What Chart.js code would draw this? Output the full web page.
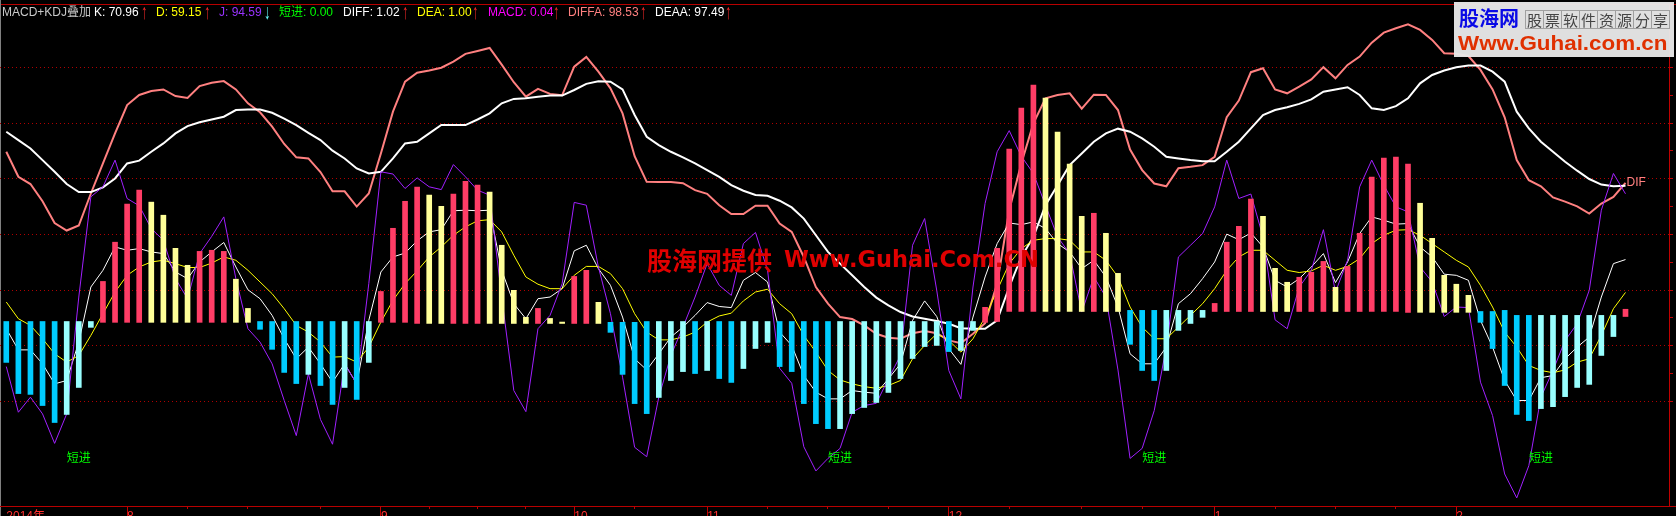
<!DOCTYPE html>
<html>
<head>
<meta charset="utf-8">
<script src="https://cdn.jsdelivr.net/npm/chart.js@4/dist/chart.umd.js"></script>
<style>
  html, body { margin: 0; padding: 0; background: #000; overflow: hidden; }
  #wrap { position: relative; width: 1676px; height: 516px; overflow: hidden; }
  #wrap span, #logo div { position: absolute; white-space: nowrap; }
  .hd { top: 5px; font: 12px/15px "Liberation Sans", "Noto Sans CJK SC", sans-serif; }
  .ar { top: 1px; font: 21px/21px "Liberation Sans", sans-serif; color: #ff2a2a; transform: scaleX(0.6); transform-origin: center; }
  .mark { color: #e00000; font-weight: bold; line-height: 30px; }
  #logo { position: absolute; left: 1454px; top: 2px; width: 220px; height: 55px; background: rgba(232,232,232,0.96); }
  #logo .cell { top: 8px; width: 17px; height: 17px; border: 1px solid #a0a0a0; color: #444;
    font: 15px/17px "Noto Sans CJK SC", sans-serif; text-align: center; }
</style>
</head>
<body>
<div id="wrap">
  <canvas id="myChart" width="1676" height="516"></canvas>

  <span class="hd" style="left:2px;color:#c8c8c8">MACD+KDJ叠加</span>
  <span class="hd" style="left:94px;color:#fff">K: 70.96</span><span class="ar" style="left:139px">↑</span>
  <span class="hd" style="left:156px;color:#ff0">D: 59.15</span><span class="ar" style="left:202px">↑</span>
  <span class="hd" style="left:219px;color:#9933ff">J: 94.59</span><span class="ar" style="left:262px;color:#66ffff">↓</span>
  <span class="hd" style="left:279px;color:#0f0">短进: 0.00</span>
  <span class="hd" style="left:343px;color:#fff">DIFF: 1.02</span><span class="ar" style="left:400px">↑</span>
  <span class="hd" style="left:417px;color:#ff0">DEA: 1.00</span><span class="ar" style="left:470px">↑</span>
  <span class="hd" style="left:488px;color:#f0f">MACD: 0.04</span><span class="ar" style="left:551px">↑</span>
  <span class="hd" style="left:568px;color:#ff8080">DIFFA: 98.53</span><span class="ar" style="left:638px">↑</span>
  <span class="hd" style="left:655px;color:#fff">DEAA: 97.49</span><span class="ar" style="left:723px">↑</span>

  <span class="mark" style="left:647px;top:244px;font-family:'Noto Sans CJK SC';font-size:25px">股海网提供</span>
  <span class="mark" style="left:784px;top:244px;font-family:'DejaVu Sans';font-size:22.5px">Www.Guhai.Com.CN</span>

  <div id="logo">
    <div style="left:5px;top:4px;color:#0a0ae6;font:bold 20px/24px 'Noto Sans CJK SC'">股海网</div>
    <div class="cell" style="left:71px">股</div>
    <div class="cell" style="left:89px">票</div>
    <div class="cell" style="left:107px">软</div>
    <div class="cell" style="left:125px">件</div>
    <div class="cell" style="left:143px">资</div>
    <div class="cell" style="left:161px">源</div>
    <div class="cell" style="left:179px">分</div>
    <div class="cell" style="left:197px">享</div>
    <div style="left:4px;top:29px;color:#e03000;font:bold 20px/24px 'Liberation Sans';transform:scaleX(1.12);transform-origin:left">Www.Guhai.com.cn</div>
  </div>
</div>

<script>
// KDJ lines
const kValues = [46.1,38.5,38.5,33.5,26.3,27.5,41.3,61.1,67.1,75.5,74.3,74.9,73.7,73.1,66.5,64.1,70.1,73.7,77.1,68.3,60.1,56.9,50.9,42.5,35.3,39.5,33.5,26.9,33.5,26.3,49.1,66.5,71.9,73.3,77.7,
  80.9,81.7,88.5,88.7,88.5,88.7,67.1,55.1,49.7,56.9,57.5,60.5,74.1,76.1,67.7,61.7,50.3,35.3,31.3,37.1,43.1,46.7,50.9,55.5,54.1,53.7,63.5,66.3,62.9,44.9,40.1,29.3,23.3,20.9,
  20.9,23.9,23.3,22.9,28.1,33.5,49.1,56.1,50.5,38.9,33.3,50.3,64.7,76.7,84.1,83.5,84.5,82.1,76.7,73.7,67.7,70.7,64.7,53.9,37.1,33.5,33.5,39.5,55.1,58.7,64.1,70.1,80.1,78.1,80.5,
  75.5,63.5,61.1,64.1,68.3,73.1,62.7,70.1,80.3,86.3,85.1,83.7,83.9,75.5,71.9,65.7,65.3,63.5,49.1,39.5,27.5,20.3,20.3,28.5,29.3,35.3,39.5,43.1,57.5,69.5,70.96];
const dValues = [55.7,49.7,47.3,42.5,37.1,34.1,36.5,43.7,51.5,59.3,65.3,68.3,70.1,70.7,69.5,68.1,68.1,69.7,71.9,70.7,67.1,62.9,58.7,53.3,47.3,44.9,41.3,35.9,36.1,34.1,39.5,48.5,56.3,62.3,66.9,
  71.9,75.5,79.7,82.7,84.9,85.3,80.9,72.5,64.7,62.1,60.5,60.5,65.3,68.5,68.5,65.9,60.5,51.5,44.9,42.1,42.1,43.1,44.9,48.5,50.7,51.7,56.1,59.3,60.3,55.1,51.5,43.7,37.7,31.1,
  27.7,26.3,25.3,24.7,25.7,27.5,35.3,40.1,44.3,41.9,37.7,42.5,50.3,59.9,69.5,74.9,77.9,78.5,78.5,77.9,73.7,73.7,70.7,64.7,53.9,46.7,42.5,42.5,46.7,50.9,55.1,60.5,67.1,71.9,74.3,
  74.3,70.7,67.1,66.3,66.9,68.9,67.1,68.5,71.3,76.7,79.7,81.5,81.7,79.7,76.7,73.7,70.7,68.3,61.7,53.9,44.9,39.5,32.9,31.1,30.3,31.3,34.1,35.3,43.7,53.3,59.15];
const jValues = [32.5,16.1,21.5,15.5,4.9,15.5,57.5,93.5,97.1,106.7,92.9,90.3,82.1,77.9,64.1,56.9,73.1,79.3,86.3,64.1,46.1,41.3,33.5,20.3,7.7,29.9,13.5,4.6,33.5,26.3,62.3,102.5,101.7,96.5,100.3,
  97.1,96.1,105.1,100.7,95.9,94.1,57.5,23.9,16.3,46.1,50.9,62.3,91.5,90.5,68.3,51.5,28.7,3.5,0.1,21.5,36.5,46.7,57.5,69.5,61.7,58.1,76.7,80.7,67.1,31.9,26.5,3.7,-5.0,-0.5,
  3.1,16.1,18.5,19.3,28.1,36.5,76.1,85.7,59.9,31.1,20.9,61.1,91.1,109.7,117.3,108.1,101.9,90.5,79.1,73.1,52.1,64.7,57.5,31.3,-0.5,3.1,16.7,39.5,71.9,76.1,80.3,89.9,106.7,92.9,94.5,
  79.1,49.3,46.1,61.1,67.1,81.7,59.3,70.7,97.1,106.7,97.7,89.9,88.1,68.3,62.9,50.5,53.9,53.7,26.9,14.9,-6.1,-14.7,-3.1,21.5,31.1,41.9,47.9,59.9,88.7,101.9,94.59];

// MACD lines scaled into the same range
const diffaValues = [109.7,100.7,98.1,91.9,84.1,81.4,83.2,94.7,105.5,116.3,126.5,130.1,131.5,132.1,129.7,129.0,133.3,134.5,135.1,132.1,127.1,123.9,118.7,112.5,107.7,107.3,102.4,95.5,95.5,90.0,94.7,109.1,124.1,134.9,138.1,
  138.9,139.9,142.1,144.9,145.9,147.0,141.0,134.7,129.5,132.3,130.5,130.0,140.3,143.8,138.5,132.5,123.5,108.1,98.9,98.8,98.8,98.4,95.9,94.6,90.5,87.3,87.3,90.3,90.3,83.9,80.9,71.9,61.1,55.1,
  50.3,49.6,47.3,44.3,42.9,42.5,44.5,45.3,44.5,41.9,40.9,44.3,48.1,62.3,88.7,105.5,119.9,128.9,130.1,130.7,125.2,130.2,130.1,124.7,110.5,103.1,98.3,97.3,103.8,104.3,104.9,107.9,122.1,128.1,138.3,
  139.7,132.1,130.7,133.1,135.7,140.1,136.1,140.9,143.9,148.9,152.5,154.1,155.5,153.5,149.9,145.1,144.9,144.1,139.1,132.1,122.1,106.7,99.5,97.3,93.3,91.8,90.1,87.5,91.1,93.5,98.53];
const deaaValues = [116.9,113.9,110.9,106.7,102.5,98.1,95.2,95.2,96.9,100.1,105.5,106.5,109.7,112.7,116.3,118.9,120.3,121.3,122.3,124.7,124.9,124.9,123.7,121.6,119.3,116.5,113.9,110.1,107.3,103.7,101.9,102.5,107.3,112.7,113.3,
  116.3,119.3,119.3,119.3,121.3,123.5,127.1,128.7,128.9,129.5,129.9,129.9,131.9,134.1,135.0,134.9,132.1,122.9,115.1,112.1,109.7,107.7,105.5,103.1,100.7,97.7,95.7,94.2,93.9,92.1,89.7,85.7,79.7,73.7,
  69.5,65.3,61.1,57.3,54.5,52.1,50.5,49.7,48.9,47.9,46.3,46.1,46.1,49.1,61.1,71.9,79.1,90.5,97.7,104.9,109.1,113.3,116.3,118.0,116.9,114.5,111.5,107.9,107.3,106.7,106.3,106.3,109.7,113.3,118.1,
  122.9,124.7,125.7,126.9,128.5,131.3,132.1,132.9,130.1,125.3,124.7,126.1,128.9,134.3,137.3,138.9,140.1,140.7,140.7,138.5,134.9,124.1,118.1,113.3,109.7,106.1,102.9,99.9,97.9,97.3,97.49];

// histogram: where each bar starts, where it ends, and its kind
// R rising above zero, Y falling above zero, C falling below zero, L rising below zero
const macdBase = [48.7,48.7,48.7,48.7,48.7,48.7,48.7,48.7,48.4,48.4,48.4,48.4,48.4,48.4,48.4,48.4,48.4,48.4,48.4,48.4,48.4,48.7,48.7,48.7,48.7,48.7,48.7,48.7,48.7,48.7,48.7,48.4,48.4,48.4,48.0,
  48.0,48.0,48.0,48.0,48.0,48.0,48.0,48.0,48.0,48.0,48.0,48.0,48.0,48.0,48.0,48.4,48.4,48.4,48.7,48.7,48.7,48.7,48.7,48.7,48.7,48.7,48.7,48.7,48.7,48.7,48.7,48.7,48.7,48.7,
  48.7,48.7,48.7,48.7,48.7,48.7,48.7,48.7,48.7,48.7,48.7,48.7,48.4,48.7,52.3,52.3,52.3,52.3,52.3,52.3,52.3,52.3,52.3,52.3,52.7,52.7,52.7,52.7,52.7,52.7,52.7,52.3,52.3,52.3,52.3,
  52.3,52.3,52.3,52.3,52.3,52.3,52.3,52.3,52.3,52.3,52.3,52.3,52.0,52.0,52.0,52.0,52.0,52.0,52.3,52.3,52.7,50.9,50.9,50.9,50.9,50.9,50.9,50.9,50.9,50.9,50.5];
const macdEnd = [34.0,22.8,22.5,18.5,12.4,15.3,25.0,46.6,63.1,77.2,90.9,95.9,91.6,86.9,75.0,68.9,73.9,74.3,73.9,63.9,53.4,45.9,38.7,30.4,26.4,29.7,25.7,18.9,25.0,20.7,34.0,59.5,82.2,91.9,97.0,
  94.1,90.1,94.5,99.1,97.7,95.2,76.1,59.9,50.2,53.4,49.8,48.5,64.9,67.1,55.6,44.8,29.7,19.2,15.6,21.4,27.5,30.7,30.0,31.1,28.2,26.8,31.8,39.0,41.2,32.5,30.7,19.2,12.0,10.2,
  10.2,15.6,17.8,19.6,23.2,28.2,35.4,39.7,40.1,37.9,38.3,45.5,53.8,75.0,110.7,125.4,133.7,129.0,116.8,105.3,86.5,87.6,80.4,66.0,40.5,31.1,27.5,31.1,45.5,48.0,50.2,55.2,77.2,82.9,92.7,
  86.5,67.8,62.8,64.6,66.4,70.3,61.0,68.5,80.4,100.6,107.4,107.8,105.3,91.2,78.6,65.3,62.1,58.1,48.4,39.0,25.7,15.3,13.1,17.4,18.1,21.7,25.0,26.1,36.5,43.3,53.1];
const macdKind = "CCCCCLLLRRRRYYYYRRRYYCCCCLCCLCLRRRR" +
  "YYRRRYYYYRYYRRYCCCCLLLCLCCLLLCCCCCL" +
  "LLLLLLLLCLLRRRRRYYYYRYYCCCLLLLRRRR" +
  "YYYRRRYRRRRRRYYYYYCCCCCLLLLLLLR";

// time axis: bar index -> label, and the unlabelled ticks between months
const monthLabels = { 0: "2014年", 10: "8", 31: "9", 47: "10", 58: "11", 78: "12", 100: "1", 120: "2" };
const minorTicks = [15, 20, 26, 35, 39, 43, 52, 63, 68, 73, 83, 89, 94, 105, 110, 115];

// 短进 signal fires at value 0
const signalBars = [6, 69, 95, 127];

const KIND_COLORS = { R: "#ff3d66", Y: "#ffff99", C: "#00ccff", L: "#99ffff" };

const bars = macdEnd.map((v, i) => i);
const toPoints = (vals) => vals.map((v, i) => ({ x: i, y: v }));

function lineSet(label, vals, color, width, order) {
  return {
    type: "line",
    label: label,
    data: toPoints(vals),
    borderColor: color,
    borderWidth: width,
    pointRadius: 0,
    tension: 0,
    order: order,
  };
}

// black backdrop, frame lines and the two text marks tied to the data
const decorations = {
  id: "decorations",
  beforeDraw(chart) {
    const { ctx, width, chartArea } = chart;
    ctx.save();
    ctx.fillStyle = "#000";
    ctx.fillRect(0, 0, width, chart.height);
    ctx.fillStyle = "#b80000";
    ctx.fillRect(0, chartArea.top, width, 1);
    ctx.fillRect(0, chartArea.bottom, width, 1);
    ctx.fillStyle = "#808080";
    ctx.fillRect(0, 0, 1, chart.height);
    ctx.restore();
  },
  afterDatasetsDraw(chart) {
    const { ctx, scales } = chart;
    ctx.save();
    ctx.textBaseline = "middle";
    ctx.font = '12px "Noto Sans CJK SC"';
    ctx.fillStyle = "#00ff00";
    ctx.textAlign = "center";
    signalBars.forEach((i) => ctx.fillText("短进", scales.x.getPixelForValue(i), scales.y.getPixelForValue(0)));
    ctx.font = '12px "Liberation Sans"';
    ctx.fillStyle = "#ff8080";
    ctx.textAlign = "left";
    ctx.fillText("DIF", scales.x.getPixelForValue(134) + 1, scales.y.getPixelForValue(98.5));
    ctx.restore();
  },
};

new Chart(document.getElementById("myChart"), {
  data: {
    datasets: [
      {
        type: "bar",
        label: "MACD",
        data: bars.map((i) => ({ x: i, y: [macdBase[i], macdEnd[i]] })),
        backgroundColor: bars.map((i) => KIND_COLORS[macdKind[i]]),
        barThickness: 5,
        borderWidth: 0,
        order: 0,
      },
      lineSet("J", jValues, "#a020ff", 1, 1),
      lineSet("D", dValues, "#ffff00", 1, 2),
      lineSet("K", kValues, "#ffffff", 1, 3),
      lineSet("DEAA", deaaValues, "#ffffff", 2, 4),
      lineSet("DIFFA", diffaValues, "#ff8080", 2, 5),
    ],
  },
  plugins: [decorations],
  options: {
    responsive: false,
    animation: false,
    devicePixelRatio: 1,
    layout: { padding: { top: 4, left: 0, right: 0, bottom: 0 } },
    plugins: { legend: { display: false }, tooltip: { enabled: false } },
    scales: {
      x: {
        type: "linear",
        offset: false,
        min: -0.52,
        max: 137.6,
        afterFit(scale) {
          scale.height = 10;
        },
        afterBuildTicks(scale) {
          const all = Object.keys(monthLabels).map(Number).concat(minorTicks);
          scale.ticks = all.sort((a, b) => a - b).map((value) => ({ value }));
        },
        border: { color: "#b80000" },
        grid: {
          offset: false,
          drawOnChartArea: false,
          tickLength: 10,
          tickColor: (ctx) => (ctx.tick && ctx.tick.value === 0 ? "transparent" : "#c00000"),
          tickBorderDash: (ctx) => (ctx.tick && monthLabels[ctx.tick.value] ? [] : [2, 100]),
        },
        ticks: {
          autoSkip: false,
          maxRotation: 0,
          align: "start",
          padding: -7,
          color: "#ff3030",
          font: { family: "Liberation Sans, Noto Sans CJK SC", size: 12 },
          callback: (value) => monthLabels[value] || "",
        },
      },
      y: {
        position: "right",
        min: -17.6,
        max: 162.8,
        afterFit(scale) {
          scale.width = 7;
        },
        afterBuildTicks(scale) {
          const list = [];
          for (let v = 20; v <= 140; v += 10) list.push({ value: v });
          scale.ticks = list;
        },
        border: { color: "#c00000", width: 1, dash: [1, 3] },
        grid: {
          tickLength: 4,
          tickColor: "#c00000",
          color: (ctx) => (ctx.tick && ctx.tick.value % 20 === 0 ? "#b00000" : "transparent"),
        },
        ticks: { display: false },
      },
    },
  },
});
</script>
</body>
</html>
